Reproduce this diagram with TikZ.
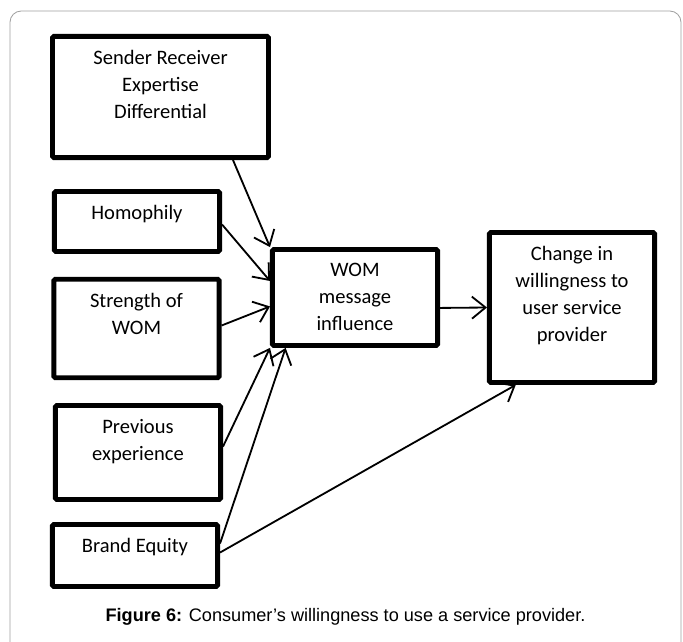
\documentclass[tikz,border=0pt]{standalone}
\usepackage{fontspec}
\setmainfont{Carlito}
\newfontfamily\capfont{Liberation Sans}
\usetikzlibrary{arrows.meta,positioning}
\definecolor{frm}{RGB}{160,160,160}
\tikzset{
  box/.style={draw, line width=3.4pt, rounded corners=1pt, minimum width=4.13cm, inner sep=0pt},
  txt/.style={align=center, inner sep=0pt, font=\fontsize{14.6}{19.2}\selectfont},
  arr/.style={line width=1.3pt, -{Straight Barb[length=3.4mm, width=5.5mm, line width=1.3pt]}}
}

\begin{document}
\begin{tikzpicture}[x=0.025cm, y=-0.025cm]
        \useasboundingbox (0,0) rectangle (683,642);
        % outer frame, its bottom runs off the page
        \draw[frm, line width=0.6pt, rounded corners=8pt] (10,642) -- (10,11) -- (681,11) -- (681,642);

        % boxes
        \node[box, minimum width=5.4cm, minimum height=3.03cm] (sender) at (160.5,97) {};
        \node[box, minimum height=1.5cm] (homophily) at (137,221.5) {};
        \node[box, minimum height=2.46cm] (strength) at (136.5,328.5) {};
        \node[box, minimum height=2.35cm] (previous) at (138,452.5) {};
        \node[box, minimum height=1.55cm] (brand) at (135,555.5) {};
        \node[box, minimum height=2.4cm] (wom) at (355,297.5) {};
        \node[box, minimum height=3.75cm] (change) at (572,307.5) {};

        % texts, hung from the top of each box
        \node[txt, below=4.1mm of sender.north] (sender-t) {Sender Receiver\\Expertise\\Differential};
        \node[txt, below=3.9mm of homophily.north] (homophily-t) {Homophily};
        \node[txt, below=3.9mm of strength.north] (strength-t) {Strength of\\WOM};
        \node[txt, below=3.9mm of previous.north] (previous-t) {Previous\\experience};
        \node[txt, below=3.9mm of brand.north] (brand-t) {Brand Equity};
        \node[txt, below=3.9mm of wom.north] (wom-t) {WOM\\message\\influence};
        \node[txt, below=3.9mm of change.north] (change-t) {Change in\\willingness to\\user service\\provider};

        % arrows
        \draw[arr] (sender.-41) -- (wom.north west);
        \draw[arr] (homophily.-2) -- (wom.169);
        \draw[arr] (strength.2) -- (wom.186);
        \draw[arr] (previous.4) -- (wom.south west);
        \draw[arr] (brand.8) -- (wom.216);
        \draw[arr] (brand.2) -- (change.234);
        \draw[arr] (wom.-7) -- (change.west);

        \node[font=\capfont\fontsize{12.9}{15}\selectfont] (caption) at (345.5,617) {\textbf{Figure 6:} Consumer’s willingness to use a service provider.};
\end{tikzpicture}
\end{document}
